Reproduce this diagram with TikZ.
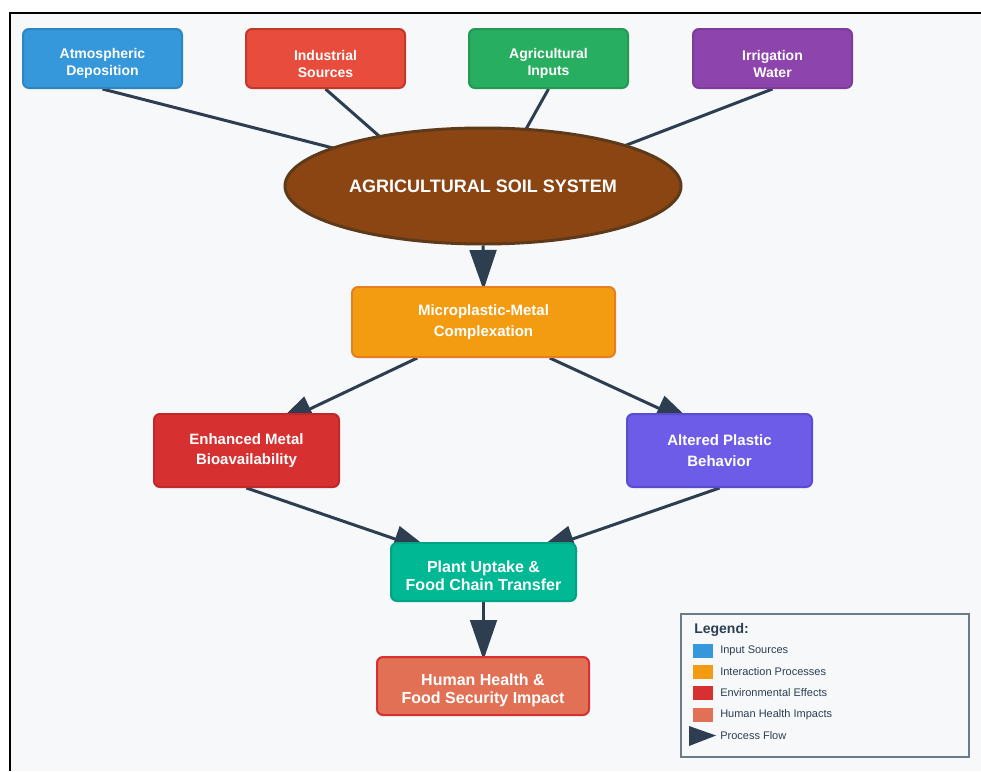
\documentclass[tikz,border=0pt]{standalone}
\usepackage{fontspec}
\setmainfont{Liberation Sans}
\usetikzlibrary{arrows.meta,calc,shapes.geometric}
\pgfdeclarelayer{back}
\pgfdeclarelayer{links}
\pgfsetlayers{back,links,main}
\definecolor{bgc}{HTML}{F7F8FA}
\definecolor{ink}{HTML}{2C3E50}
\definecolor{cblue}{HTML}{3498DB}\definecolor{bblue}{HTML}{2E86C1}
\definecolor{cred}{HTML}{E74C3C}\definecolor{bred}{HTML}{C0392B}
\definecolor{cgreen}{HTML}{27AE60}\definecolor{bgreen}{HTML}{229954}
\definecolor{cpurple}{HTML}{8E44AD}\definecolor{bpurple}{HTML}{7D3C98}
\definecolor{corange}{HTML}{F39C12}\definecolor{borange}{HTML}{E67E22}
\definecolor{cenv}{HTML}{D63031}\definecolor{benv}{HTML}{C0282A}
\definecolor{cviolet}{HTML}{6C5CE7}\definecolor{bviolet}{HTML}{5A4BD1}
\definecolor{cteal}{HTML}{00B894}\definecolor{bteal}{HTML}{00A383}
\definecolor{csalmon}{HTML}{E17055}\definecolor{bsalmon}{HTML}{D63031}
\definecolor{csoil}{HTML}{8B4513}\definecolor{bsoil}{HTML}{5D3A1A}
\definecolor{legb}{HTML}{6C7A89}
\tikzset{
  box/.style={rectangle, rounded corners=4.5pt, line width=1.5pt, text=white,
    align=center, inner sep=0pt},
  topbox/.style={box, minimum width=159*0.75pt, minimum height=59*0.75pt},
  toplab/.style={label={[text=white, align=center, inner sep=0pt, yshift=-3.75pt,
    font=\bfseries\fontsize{10.5}{12.75}\selectfont]center:{#1}}},
  midbox/.style={box, font=\bfseries\fontsize{11.25}{15.5}\selectfont},
  lowlab/.style={label={[text=white, align=center, inner sep=0pt, yshift=-3pt,
    font=\bfseries\fontsize{12}{13.5}\selectfont]center:{#1}}},
  feed/.style={draw=ink, line width=2.25pt},
  flow/.style={draw=ink, line width=2.25pt, -{Triangle[length=30pt,width=20pt]}},
  legtxt/.style={anchor=west, text=ink, font=\fontsize{8.25}{10}\selectfont, inner sep=0pt},
  swatch/.style={rectangle, minimum width=20*0.75pt, minimum height=14*0.75pt, inner sep=0pt}
}
\begin{document}
\begin{tikzpicture}[x=0.75pt,y=-0.75pt]
\useasboundingbox (0,0) rectangle (981,771);
\begin{pgfonlayer}{back}
\fill[white] (0,0) rectangle (981,771);
\fill[bgc] (10,13) rectangle (981,771);
\draw[black, line width=1.5pt] (10,771) -- (10,13) -- (981,13);
\end{pgfonlayer}

% input sources
\node[topbox, fill=cblue, draw=bblue, toplab={Atmospheric\\Deposition}] (atm) at (102.5,58.5) {};
\node[topbox, fill=cred, draw=bred, toplab={Industrial\\Sources}] (ind) at (325.5,58.5) {};
\node[topbox, fill=cgreen, draw=bgreen, toplab={Agricultural\\Inputs}] (agr) at (548.5,58.5) {};
\node[topbox, fill=cpurple, draw=bpurple, toplab={Irrigation\\Water}] (irr) at (772.5,58.5) {};

% soil system
\node[ellipse, fill=csoil, draw=bsoil, line width=2.25pt, inner sep=0pt,
  minimum width=396*0.75pt, minimum height=116*0.75pt, text=white,
  font=\bfseries\fontsize{13.5}{16}\selectfont] (soil) at (483,186) {AGRICULTURAL SOIL SYSTEM};

% processes
\node[midbox, fill=corange, draw=borange, minimum width=263*0.75pt, minimum height=70*0.75pt]
  (micro) at (483.5,322) {Microplastic-Metal\\Complexation};
\node[midbox, fill=cenv, draw=benv, minimum width=185*0.75pt, minimum height=73*0.75pt]
  (enh) at (246.5,450.5) {Enhanced Metal\\Bioavailability};
\node[midbox, fill=cviolet, draw=bviolet, minimum width=185*0.75pt, minimum height=73*0.75pt]
  (alt) at (719.5,450.5) {Altered Plastic\\Behavior};
\node[box, fill=cteal, draw=bteal, minimum width=185*0.75pt, minimum height=58*0.75pt,
  lowlab={Plant Uptake \&\\Food Chain Transfer}] (plant) at (483.5,572) {};
\node[box, fill=csalmon, draw=bsalmon, minimum width=212*0.75pt, minimum height=58*0.75pt,
  lowlab={Human Health \&\\Food Security Impact}] (human) at (483,686) {};

% connector end points (tips tucked under the boxes)
\coordinate (eatm) at (372,158);
\coordinate (eind) at (395,150);
\coordinate (eagr) at (516,147);
\coordinate (eirr) at (598,156);
\coordinate (tmicro) at (483.5,290);
\coordinate (tenh) at (274,426);
\coordinate (talt) at (695,425);
\coordinate (tpl) at (433,552);
\coordinate (tpr) at (535,552);
\coordinate (thuman) at (483.5,660);

\begin{pgfonlayer}{links}
\draw[feed] (atm.south) -- (eatm);
\draw[feed] (ind.south) -- (eind);
\draw[feed] (agr.south) -- (eagr);
\draw[feed] (irr.south) -- (eirr);
\draw[flow] (soil.south) -- (tmicro);
\draw[flow] ($(micro.south west)!0.25!(micro.south east)$) -- (tenh);
\draw[flow] ($(micro.south west)!0.75!(micro.south east)$) -- (talt);
\draw[flow] (enh.south) -- (tpl);
\draw[flow] (alt.south) -- (tpr);
\draw[flow] (plant.south) -- (thuman);
\end{pgfonlayer}

% legend
\node[draw=legb, line width=1.5pt, fill=bgc, minimum width=288*0.75pt, minimum height=143*0.75pt,
  inner sep=0pt] (legend) at (825,685.5) {};
\node[anchor=west, text=ink, inner sep=0pt, font=\bfseries\fontsize{10.5}{12}\selectfont]
  (legt) at (694,630) {Legend:};
\node[swatch, fill=cblue] (s1) at (703,651) {};
\node[swatch, fill=corange] (s2) at (703,672) {};
\node[swatch, fill=cenv] (s3) at (703,693) {};
\node[swatch, fill=csalmon] (s4) at (703,714.5) {};
\node[legtxt] (l1) at (720,651) {Input Sources};
\node[legtxt] (l2) at (720,672) {Interaction Processes};
\node[legtxt] (l3) at (720,693) {Environmental Effects};
\node[legtxt] (l4) at (720,714.5) {Human Health Impacts};
\fill[ink] (689,726) -- (716,735.5) -- (689,746) -- cycle;
\node[legtxt] (l5) at (720,735.5) {Process Flow};
\end{tikzpicture}
\end{document}
